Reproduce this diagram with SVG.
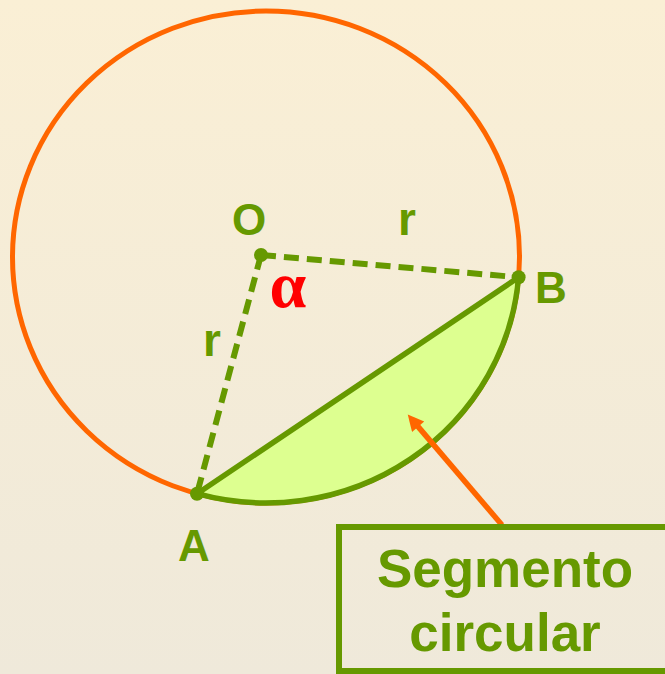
<svg xmlns="http://www.w3.org/2000/svg" width="665" height="674" viewBox="0 0 665 674">
<style>
.lbl{font-family:"Liberation Sans",Arial,sans-serif;font-weight:bold;fill:#669900;text-anchor:middle}
.dash{stroke:#669900;stroke-width:6;stroke-dasharray:15 8;fill:none}
.dot{fill:#669900}
</style>
<defs>
<linearGradient id="bg" x1="0" y1="0" x2="0" y2="1">
<stop offset="0" stop-color="#FAEFD5"/>
<stop offset="1" stop-color="#EFE9DA"/>
</linearGradient>
<marker id="ah" viewBox="0 0 10 10" refX="6" refY="5" markerWidth="20" markerHeight="16" markerUnits="userSpaceOnUse" orient="auto">
<path d="M0,0 L10,5 L0,10 z" fill="#FF6600"/>
</marker>
</defs>
<rect width="665" height="674" fill="url(#bg)"/>
<g id="circle">
<ellipse cx="266" cy="257" rx="253.5" ry="246" fill="none" stroke="#FF6600" stroke-width="5"/>
</g>
<g id="segment">
<path d="M197,493.7 A253.5,246 0 0 0 518.6,277.3 Z" fill="#DDFF90" stroke="#669900" stroke-width="5.5" stroke-linejoin="round"/>
</g>
<g id="connectors">
<line class="dash" x1="261" y1="255" x2="518.6" y2="277.3"/>
<line class="dash" x1="261" y1="255" x2="197" y2="493.7"/>
<line x1="502" y1="525" x2="411.9" y2="419.4" stroke="#FF6600" stroke-width="5.5" marker-end="url(#ah)"/>
</g>
<g id="O">
<circle class="dot" cx="261" cy="255" r="7"/>
<text class="lbl" x="249" y="235" font-size="44">O</text>
</g>
<g id="B">
<circle class="dot" cx="518.6" cy="277.3" r="7"/>
<text class="lbl" x="551" y="303" font-size="44">B</text>
</g>
<g id="A">
<circle class="dot" cx="197" cy="493.7" r="7"/>
<text class="lbl" x="194" y="561" font-size="44">A</text>
</g>
<g id="labels">
<text class="lbl" x="407" y="235" font-size="46">r</text>
<text class="lbl" x="212" y="356" font-size="46">r</text>
<text x="288" y="307" font-size="66" font-weight="bold" fill="#FF0000" text-anchor="middle" font-family="'Liberation Serif','Times New Roman',serif">α</text>
</g>
<g id="box">
<rect x="339" y="527" width="340" height="144" fill="none" stroke="#669900" stroke-width="6"/>
<text class="lbl" x="505" y="587" font-size="53">Segmento</text>
<text class="lbl" x="505" y="651" font-size="53">circular</text>
</g>
</svg>
